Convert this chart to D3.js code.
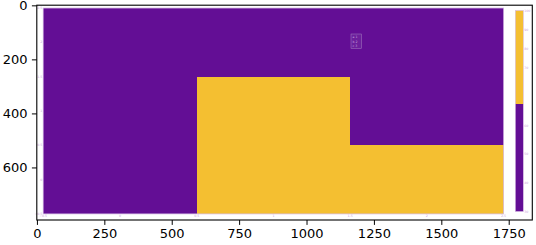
<!DOCTYPE html>
<html>
<head>
<meta charset="UTF-8">
<script src="https://d3js.org/d3.v7.min.js"></script>
<style>
    body { margin: 0; background: #fff; font-family: "DejaVu Sans", sans-serif; }
    .tiny { font-size: 3.2px; fill: #c9a3dc; }
</style>
</head>
<body>
<svg id="chart"></svg>
<script>
    // outer imshow axes (pixel coordinates of the picture)
    const imgW = 1838, imgH = 795;
    const xTicks = [0, 250, 500, 750, 1000, 1250, 1500, 1750];
    const yTicks = [0, 200, 400, 600];

    // inner heatmap: values[row][col], row 0 at the bottom
    const cols = [0, 1, 2];
    const rows = [0, 1, 2];
    const row0 = [42, 86, 92];
    const row1 = [48, 80, 55];
    const row2 = [52, 50, 45];
    const values = [row0, row1, row2];
    const threshold = 67.5;
    const innerTicks = [-0.5, 0, 0.5, 1, 1.5, 2, 2.5];
    const cbTicks = [30, 40, 50, 60, 70, 80, 90, 100];
    const legendRows = ["a 1", "b 2", "c 3"];

    const width = 536, height = 245;
    const svg = d3.select("#chart").attr("width", width).attr("height", height);

    const x = d3.scaleLinear().domain([-0.5, imgW - 0.5]).range([36.8, 532.3]);
    const y = d3.scaleLinear().domain([-0.5, imgH - 0.5]).range([5.2, 220]);

    // white picture background
    svg.append("rect")
        .attr("x", x(-0.5)).attr("y", y(-0.5))
        .attr("width", x(imgW - 0.5) - x(-0.5))
        .attr("height", y(imgH - 0.5) - y(-0.5))
        .attr("fill", "#fff");

    // inner axes
    const ix = d3.scaleLinear().domain([-0.5, 2.5]).range([43.2, 503.6]);
    const iy = d3.scaleLinear().domain([-0.5, 2.5]).range([213.9, 8]);
    const color = d3.scaleThreshold().domain([threshold]).range(["#630e95", "#f4bf31"]);

    const cells = [];
    rows.forEach(r => cols.forEach(c => cells.push({r, c, v: values[r][c]})));

    svg.selectAll(".cell")
        .data(cells)
        .enter()
        .append("rect")
        .attr("class", "cell")
        .attr("x", d => ix(d.c - 0.5))
        .attr("y", d => iy(d.r + 0.5))
        .attr("width", ix(1) - ix(0))
        .attr("height", iy(0) - iy(1))
        .attr("fill", d => color(d.v))
        .attr("shape-rendering", "crispEdges");

    svg.append("rect")
        .attr("x", ix(-0.5)).attr("y", iy(2.5))
        .attr("width", ix(2.5) - ix(-0.5)).attr("height", iy(-0.5) - iy(2.5))
        .attr("fill", "none").attr("stroke", "#d7bde4").attr("stroke-width", 0.8);

    svg.selectAll(".ixl")
        .data(innerTicks)
        .enter()
        .append("text")
        .attr("class", "tiny")
        .attr("x", d => ix(d))
        .attr("y", 217)
        .attr("text-anchor", "middle")
        .text(d => d3.format("")(d).replace("-", "\u2212"));

    svg.selectAll(".iyl")
        .data(innerTicks)
        .enter()
        .append("text")
        .attr("class", "tiny")
        .attr("x", 42.3)
        .attr("y", d => iy(d) + 1.1)
        .attr("text-anchor", "end")
        .text(d => d3.format("")(d).replace("-", "\u2212"));

    // small legend box
    const lg = svg.append("g").attr("transform", "translate(351,34)");
    lg.append("rect").attr("width", 10.7).attr("height", 14.7)
        .attr("fill", "#6c1f9c").attr("stroke", "#a57fc2").attr("stroke-width", 0.5);
    lg.selectAll("text")
        .data(legendRows)
        .enter()
        .append("text")
        .attr("class", "tiny")
        .attr("x", 1.5)
        .attr("y", (d, i) => 4.3 + i * 4.4)
        .text(d => d);

    // inner colorbar
    const cb = d3.scaleLinear().domain([30, 60, 70, 100]).range([211.5, 125.7, 68, 10.5]);
    const cbx = 515.3, cbw = 8;
    const cbSplit = 104;
    svg.append("rect").attr("x", cbx).attr("y", cb(100)).attr("width", cbw)
        .attr("height", cbSplit - cb(100)).attr("fill", color(100));
    svg.append("rect").attr("x", cbx).attr("y", cbSplit).attr("width", cbw)
        .attr("height", cb(30) - cbSplit).attr("fill", color(30));
    svg.append("rect").attr("x", cbx).attr("y", cb(100)).attr("width", cbw)
        .attr("height", cb(30) - cb(100))
        .attr("fill", "none").attr("stroke", "#d7bde4").attr("stroke-width", 0.6);
    svg.selectAll(".cbl")
        .data(cbTicks)
        .enter()
        .append("text")
        .attr("class", "tiny")
        .attr("x", 524.3)
        .attr("y", d => cb(d) + 1.1)
        .text(d => d);

    // outer axes
    const xAxis = svg.append("g")
        .attr("transform", `translate(0,${y(imgH - 0.5)})`)
        .call(d3.axisBottom(x).tickValues(xTicks).tickFormat(d3.format("d"))
            .tickSize(4.9).tickPadding(4.3).tickSizeOuter(0));
    const yAxis = svg.append("g")
        .attr("transform", `translate(${x(-0.5)},0)`)
        .call(d3.axisLeft(y).tickValues(yTicks).tickFormat(d3.format("d"))
            .tickSize(4.9).tickPadding(4.3).tickSizeOuter(0));
    [xAxis, yAxis].forEach(a => {
        a.select(".domain").remove();
        a.selectAll("text").attr("font-family", "DejaVu Sans").attr("font-size", 13).attr("fill", "#000");
        a.selectAll("line").attr("stroke", "#000").attr("stroke-width", 1);
    });

    svg.append("rect")
        .attr("x", x(-0.5)).attr("y", y(-0.5))
        .attr("width", x(imgW - 0.5) - x(-0.5))
        .attr("height", y(imgH - 0.5) - y(-0.5))
        .attr("fill", "none").attr("stroke", "#000").attr("stroke-width", 1.1);
</script>
</body>
</html>
